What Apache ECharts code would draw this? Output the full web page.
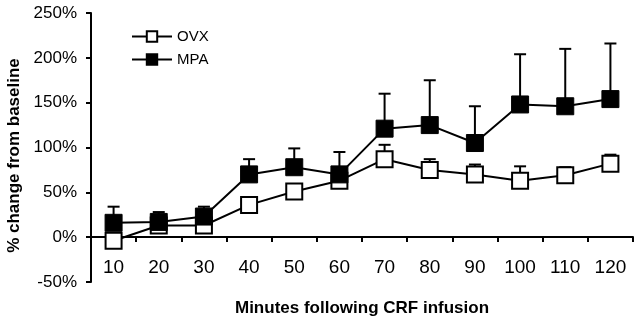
<!DOCTYPE html>
<html>
<head>
<meta charset="utf-8">
<script src="https://cdn.jsdelivr.net/npm/echarts@6/dist/echarts.min.js"></script>
<style>
  html, body { margin: 0; padding: 0; background: #fff; }
  #chart { width: 640px; height: 324px; }
</style>
</head>
<body>
<div id="chart"></div>
<script>
// minutes after infusion
const minutes = ['10', '20', '30', '40', '50', '60', '70', '80', '90', '100', '110', '120'];

// % change from baseline
const ovx = [-4, 13, 13, 36, 51, 63, 87, 75, 70, 63, 69, 82];
const ovxErr = [5, 6, 6, 5, 6, 5, 16, 12, 11, 16, 9, 10];
const mpa = [16, 17, 23, 70, 78, 70, 121, 125, 105, 148, 146, 154];
const mpaErr = [18, 11, 11, 17, 21, 25, 39, 50, 41, 56, 64, 62];

const yTicks = [-50, 0, 50, 100, 150, 200, 250];

const font = 'Liberation Sans, Arial, sans-serif';

function errData(vals, errs) {
  return vals.map((v, i) => [i, v, errs[i]]);
}

// upward error bar with a cap
function renderErr(params, api) {
  const i = api.value(0);
  const v = api.value(1);
  const e = api.value(2);
  const p0 = api.coord([i, v]);
  const p1 = api.coord([i, v + e]);
  const half = 6;
  const style = { stroke: '#000', lineWidth: 2 };
  return {
    type: 'group',
    children: [
      { type: 'line', shape: { x1: p0[0], y1: p0[1], x2: p1[0], y2: p1[1] }, style },
      { type: 'line', shape: { x1: p1[0] - half, y1: p1[1], x2: p1[0] + half, y2: p1[1] }, style }
    ]
  };
}

const chart = echarts.init(document.getElementById('chart'));
chart.setOption({
  animation: false,
  textStyle: { fontFamily: font, color: '#000' },
  grid: { left: 91, right: 7, top: 13, bottom: 42, containLabel: false, outerBoundsMode: 'none' },
  legend: {
    orient: 'vertical',
    left: 131,
    top: 29,
    padding: 0,
    itemWidth: 40,
    itemHeight: 13,
    itemGap: 8,
    data: ['OVX', 'MPA'],
    textStyle: { fontFamily: font, fontSize: 15, color: '#000' }
  },
  xAxis: {
    type: 'category',
    data: minutes,
    boundaryGap: true,
    // the horizontal axis crosses the value axis at 0%
    offset: -45,
    name: 'Minutes following CRF infusion',
    nameLocation: 'middle',
    nameGap: 63,
    nameTextStyle: { fontFamily: font, fontSize: 17, fontWeight: 'bold', color: '#000' },
    axisLine: { onZero: false, lineStyle: { color: '#000', width: 2 } },
    axisTick: { show: true, length: 5, lineStyle: { color: '#000', width: 2 } },
    axisLabel: { margin: 21, fontSize: 19, color: '#000', fontFamily: font, interval: 0 },
    splitLine: { show: false }
  },
  yAxis: {
    type: 'value',
    min: yTicks[0],
    max: yTicks[yTicks.length - 1],
    interval: 50,
    name: '% change from baseline',
    nameLocation: 'middle',
    nameGap: 67,
    nameTextStyle: { fontFamily: font, fontSize: 17, fontWeight: 'bold', color: '#000', padding: [0, 16, 0, 0] },
    axisLine: { show: true, lineStyle: { color: '#000', width: 2 } },
    axisTick: { show: true, length: 5, lineStyle: { color: '#000', width: 2 } },
    axisLabel: { margin: 14, fontSize: 17, color: '#000', fontFamily: font, formatter: '{value}%' },
    splitLine: { show: false }
  },
  series: [
    {
      type: 'custom',
      renderItem: renderErr,
      data: errData(ovx, ovxErr),
      z: 1,
      silent: true
    },
    {
      name: 'OVX',
      type: 'line',
      data: ovx,
      symbol: 'rect',
      symbolSize: 16,
      z: 2,
      lineStyle: { color: '#000', width: 2 },
      itemStyle: { color: '#fff', borderColor: '#000', borderWidth: 2 }
    },
    {
      type: 'custom',
      renderItem: renderErr,
      data: errData(mpa, mpaErr),
      z: 3,
      silent: true
    },
    {
      name: 'MPA',
      type: 'line',
      data: mpa,
      symbol: 'rect',
      symbolSize: 17,
      z: 4,
      lineStyle: { color: '#000', width: 2 },
      itemStyle: { color: '#000', borderColor: '#000', borderWidth: 1 }
    }
  ]
});
</script>
</body>
</html>
